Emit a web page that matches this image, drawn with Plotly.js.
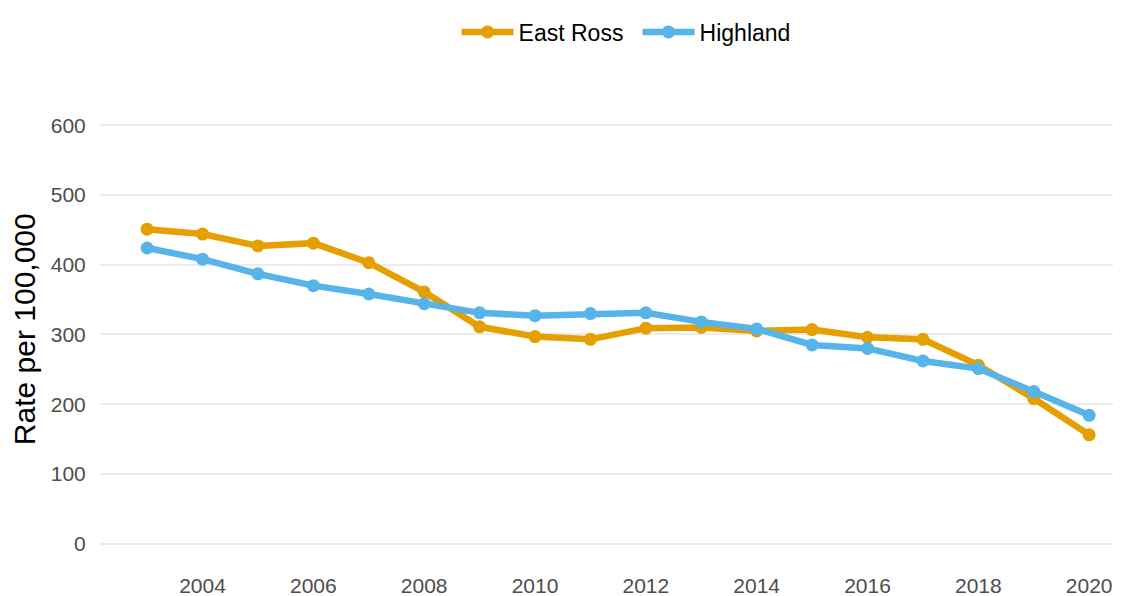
<!DOCTYPE html>
<html>
<head>
<meta charset="utf-8">
<script src="https://cdn.plot.ly/plotly-3.0.1.min.js"></script>
<style>html,body{margin:0;padding:0;background:#fff;}#chart{width:1125px;height:596px;}</style>
</head>
<body>
<div id="chart"></div>
<script>
const years = [2003,2004,2005,2006,2007,2008,2009,2010,2011,2012,2013,2014,2015,2016,2017,2018,2019,2020];
const eastRoss = [451,444,427,431,403,361,311,297,293,309,310,305,307,296,293,256,208,156];
const highland = [424,408,387,370,358,344,331,327,330,331,318,308,285,280,262,251,218,184];
const seriesNames = ["East Ross","Highland"];
const xTicks = [2004,2006,2008,2010,2012,2014,2016,2018,2020];
const yTicks = [0,100,200,300,400,500,600];

const mk = (name, y, color) => ({
  x: years, y: y, name: name, type: 'scatter', mode: 'lines+markers',
  line: {color: color, width: 6.5},
  marker: {color: color, size: 13}
});

const data = [
  mk(seriesNames[0], eastRoss, '#E69F00'),
  mk(seriesNames[1], highland, '#56B4E9')
];

const layout = {
  width: 1125, height: 596,
  paper_bgcolor: '#fff', plot_bgcolor: '#fff',
  font: {family: 'Liberation Sans, Arial, sans-serif', color: '#4d4d4d', size: 21},
  margin: {l: 100, r: 12, t: 10, b: 35},
  showlegend: true,
  legend: {orientation: 'h', x: 0.352, xanchor: 'left', y: 0.969, yanchor: 'middle',
           itemwidth: 52, entrywidth: 114, entrywidthmode: 'pixels',
           font: {size: 23, color: '#000'}, bgcolor: 'rgba(0,0,0,0)'},
  xaxis: {range: [2002.15, 2020.43], tickvals: xTicks, ticktext: xTicks.map(String),
          showgrid: false, zeroline: false, showline: false,
          ticks: 'outside', ticklen: 6, tickcolor: 'rgba(0,0,0,0)',
          tickfont: {size: 21, color: '#4d4d4d'}},
  yaxis: {range: [-25, 640], domain: [0, 0.849], tickvals: yTicks, ticktext: yTicks.map(String),
          showgrid: true, gridcolor: '#ebebeb', gridwidth: 2, zeroline: false, showline: false,
          ticks: 'outside', ticklen: 9, tickcolor: 'rgba(0,0,0,0)',
          tickfont: {size: 21, color: '#4d4d4d'},
          title: {text: 'Rate per 100,000', font: {size: 30, color: '#000'}, standoff: 6}}
};

Plotly.newPlot('chart', data, layout, {displayModeBar: false, staticPlot: true});
</script>
</body>
</html>
